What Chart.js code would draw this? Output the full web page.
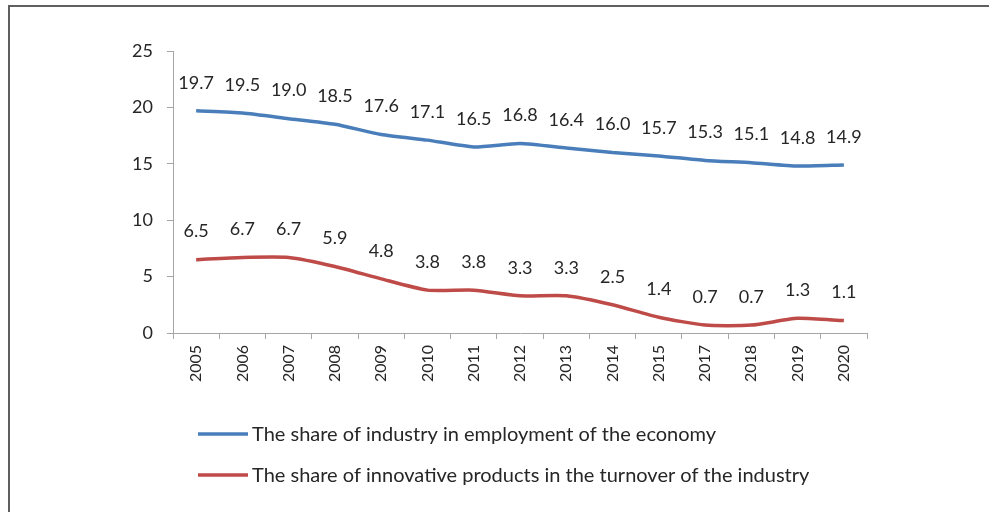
<!DOCTYPE html>
<html>
<head>
<meta charset="utf-8">
<script src="https://cdn.jsdelivr.net/npm/chart.js@4.4.1/dist/chart.umd.min.js"></script>
<style>
  html, body { margin: 0; padding: 0; background: #fff; }
  #wrap { width: 989px; height: 512px; position: relative; }
</style>
</head>
<body>
<div id="wrap"><canvas id="chart" width="989" height="512"></canvas></div>
<script>
// DATA
const years = ['2005', '2006', '2007', '2008', '2009', '2010', '2011', '2012', '2013', '2014', '2015', '2017', '2018', '2019', '2020'];
const employmentShare = [19.7, 19.5, 19.0, 18.5, 17.6, 17.1, 16.5, 16.8, 16.4, 16.0, 15.7, 15.3, 15.1, 14.8, 14.9];
const innovativeShare = [6.5, 6.7, 6.7, 5.9, 4.8, 3.8, 3.8, 3.3, 3.3, 2.5, 1.4, 0.7, 0.7, 1.3, 1.1];
const seriesNames = [
    'The share of industry in employment of the economy',
    'The share of innovative products in the turnover of the industry'
];
const yMin = 0;
const yMax = 25;
const yStep = 5;

const FONT = 'Lato';
const TEXT = '#262626';
const AXIS = '#a6a6a6';

// frame around the chart (top and left edges only, the rest is cropped)
const framePlugin = {
    id: 'frame',
    beforeDraw(chart) {
        const ctx = chart.ctx;
        ctx.save();
        ctx.strokeStyle = '#5f5f5f';
        ctx.lineWidth = 2;
        ctx.beginPath();
        ctx.moveTo(989, 6);
        ctx.lineTo(9, 6);
        ctx.lineTo(9, 512);
        ctx.stroke();
        ctx.restore();
    }
};

// value labels above each point
const valueLabels = {
    id: 'valueLabels',
    afterDatasetsDraw(chart) {
        const ctx = chart.ctx;
        ctx.save();
        ctx.font = '18px ' + FONT;
        ctx.fillStyle = TEXT;
        ctx.textAlign = 'center';
        ctx.textBaseline = 'middle';
        chart.data.datasets.forEach((ds, i) => {
            chart.getDatasetMeta(i).data.forEach((pt, j) => {
                ctx.fillText(ds.data[j].toFixed(1), pt.x, pt.y - 28);
            });
        });
        ctx.restore();
    }
};

// legend stacked under the axis, like the original
const stackedLegend = {
    id: 'stackedLegend',
    afterDraw(chart) {
        const ctx = chart.ctx;
        ctx.save();
        ctx.font = '20px ' + FONT;
        ctx.textBaseline = 'middle';
        chart.data.datasets.forEach((ds, i) => {
            const y = 434 + i * 41;
            ctx.strokeStyle = ds.borderColor;
            ctx.lineWidth = 3.5;
            ctx.beginPath();
            ctx.moveTo(198, y);
            ctx.lineTo(248, y);
            ctx.stroke();
            ctx.fillStyle = TEXT;
            ctx.fillText(ds.label, 252, y + 1);
        });
        ctx.restore();
    }
};

const chart = new Chart(document.getElementById('chart'), {
    type: 'line',
    data: {
        labels: years,
        datasets: [{
            label: seriesNames[0],
            data: employmentShare,
            borderColor: '#4a7ebb',
            borderWidth: 3.5,
            pointRadius: 0,
            tension: 0.2,
            fill: false
        }, {
            label: seriesNames[1],
            data: innovativeShare,
            borderColor: '#be4b48',
            borderWidth: 3.5,
            pointRadius: 0,
            tension: 0.2,
            fill: false
        }]
    },
    options: {
        responsive: false,
        animation: false,
        layout: {
            padding: { left: 0, right: 122, top: 51, bottom: 119 }
        },
        scales: {
            x: {
                offset: true,
                grid: {
                    offset: true,
                    drawOnChartArea: false,
                    drawTicks: true,
                    tickLength: 6,
                    color: AXIS
                },
                border: { color: AXIS, width: 1 },
                ticks: {
                    minRotation: 90,
                    maxRotation: 90,
                    padding: 6,
                    color: TEXT,
                    font: { family: FONT, size: 16 }
                },
                afterFit(scale) { scale.height = 60; }
            },
            y: {
                min: yMin,
                max: yMax,
                grid: {
                    drawOnChartArea: false,
                    drawTicks: true,
                    tickLength: 6,
                    color: AXIS
                },
                border: { color: AXIS, width: 1 },
                ticks: {
                    stepSize: yStep,
                    padding: 14,
                    color: TEXT,
                    font: { family: FONT, size: 18 }
                },
                afterFit(scale) { scale.width = 173; }
            }
        },
        plugins: {
            legend: { display: false },
            tooltip: { enabled: false }
        }
    },
    plugins: [framePlugin, valueLabels, stackedLegend]
});
</script>
</body>
</html>
